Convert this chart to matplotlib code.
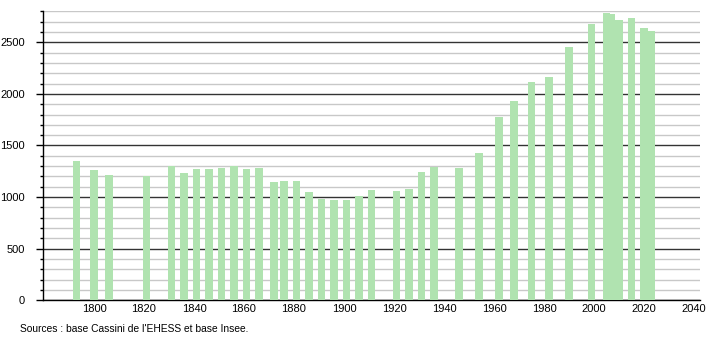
import matplotlib.pyplot as plt
from matplotlib.ticker import MultipleLocator

# census years and population
years = [1793, 1800, 1806, 1821, 1831, 1836, 1841, 1846, 1851, 1856,
         1861, 1866, 1872, 1876, 1881, 1886, 1891, 1896, 1901, 1906,
         1911, 1921, 1926, 1931, 1936, 1946, 1954, 1962, 1968, 1975,
         1982, 1990, 1999, 2005, 2007, 2010, 2015, 2020, 2023]
population = [1350, 1263, 1214, 1204, 1301, 1234, 1272, 1270, 1285, 1304,
              1272, 1282, 1146, 1156, 1156, 1049, 982, 972, 972, 1011,
              1069, 1059, 1078, 1243, 1292, 1280, 1427, 1775, 1930, 2113,
              2162, 2452, 2675, 2781, 2771, 2716, 2738, 2641, 2609]
x_ticks = list(range(1800, 2041, 20))
source_text = "Sources : base Cassini de l'EHESS et base Insee."

plt.rcParams['font.family'] = ['Liberation Sans', 'DejaVu Sans']

fig = plt.figure(figsize=(7.1, 3.4), dpi=100)
ax = fig.add_axes([43 / 710, 1 - 300.3 / 340, 657 / 710, 289 / 340])

ax.bar(years, population, width=3.1, color='#b0e3b0', zorder=3)

ax.set_xlim(1779.6, 2042.4)
ax.set_ylim(0, 2800)
ax.set_xticks(x_ticks)
ax.yaxis.set_major_locator(MultipleLocator(500))
ax.yaxis.set_minor_locator(MultipleLocator(100))

# grid: light every 100, dark every 500
ax.grid(True, axis='y', which='minor', color='#c8c8c8', linewidth=1.0, zorder=1)
ax.grid(True, axis='y', which='major', color='#333333', linewidth=1.0, zorder=2)

for side in ['top', 'right']:
    ax.spines[side].set_visible(False)
for side in ['left', 'bottom']:
    ax.spines[side].set_color('black')
    ax.spines[side].set_linewidth(1.0)

ax.tick_params(axis='x', length=0, pad=3, labelsize=8)
ax.tick_params(axis='y', which='major', length=5, width=1, pad=8, labelsize=8)
ax.tick_params(axis='y', which='minor', length=2, width=1)

fig.text(20 / 710, 1 - 329 / 340, source_text, fontsize=7.4, va='center', ha='left')

plt.savefig('out.png', dpi=100)
